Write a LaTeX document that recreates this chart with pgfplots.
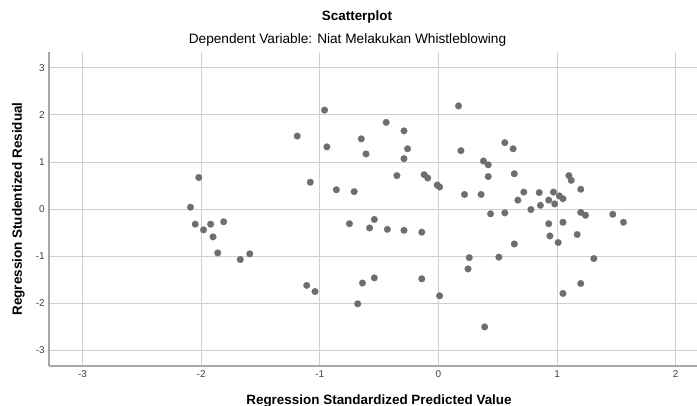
\documentclass[border=0pt]{standalone}
\usepackage{fontspec}
\setmainfont{Liberation Sans}
\usepackage{pgfplots}
\pgfplotsset{compat=1.18}
\definecolor{dotgray}{HTML}{6E6E6E}
\definecolor{gridgray}{HTML}{D0D0D0}
\definecolor{axgray}{HTML}{A8A8A8}

\begin{document}
\begin{tikzpicture}
\begin{axis}[
    at={(0,0)}, anchor=south west,
    scale only axis,
    width=647.7bp, height=314.3bp,
    xmin=-3.28, xmax=2.18,
    ymin=-3.33, ymax=3.34,
    xtick={-3,-2,-1,0,1,2},
    ytick={-3,-2,-1,0,1,2,3},
    xticklabels={-3,-2,-1,0,1,2},
    yticklabels={-3,-2,-1,0,1,2,3},
    axis x line*=bottom,
    axis y line*=left,
    axis line style={axgray, line width=1.6bp, -},
    major tick length=0pt,
    grid=major,
    major grid style={gridgray, line width=0.9bp},
    tick label style={font=\fontsize{10}{12}\selectfont, text=black!75},
    xticklabel style={yshift=-1bp},
    yticklabel style={xshift=-1bp},
]
\addplot[only marks, color=dotgray, mark=*, mark size=3.4bp,
    mark options={solid, fill=dotgray, draw=dotgray, line width=0.1bp}]
coordinates {
    (-2.09,0.04) (-2.02,0.67) (-2.05,-0.32) (-1.98,-0.44) (-1.92,-0.32)
    (-1.90,-0.59) (-1.81,-0.27) (-1.86,-0.93) (-1.67,-1.07) (-1.59,-0.95)
    (-1.11,-1.62) (-1.04,-1.75) (-0.75,-0.31) (-0.58,-0.40) (-0.54,-0.22)
    (-0.43,-0.43) (-0.29,-0.45) (-0.14,-0.49) (-0.64,-1.57) (-0.54,-1.46)
    (-0.68,-2.01) (-0.14,-1.48) (0.01,-1.84) (0.26,-1.03) (0.25,-1.27)
    (-0.96,2.10) (-1.19,1.55) (-0.94,1.32) (-1.08,0.57) (-0.86,0.41)
    (-0.71,0.37) (-0.44,1.84) (-0.29,1.66) (-0.65,1.49) (-0.26,1.28)
    (-0.61,1.17) (-0.29,1.07) (-0.35,0.71) (-0.12,0.73) (-0.09,0.66)
    (-0.01,0.51) (0.01,0.47) (0.17,2.19) (0.19,1.24) (0.22,0.31)
    (0.36,0.31) (0.38,1.02) (0.42,0.94) (0.42,0.69) (0.56,1.41)
    (0.63,1.28) (0.64,0.75) (0.44,-0.10) (0.56,-0.08) (0.67,0.19)
    (0.72,0.36) (0.78,-0.01) (0.85,0.35) (0.86,0.08) (0.93,0.19)
    (0.97,0.36) (0.98,0.11) (1.02,0.28) (1.05,0.22) (1.10,0.71)
    (1.12,0.61) (1.20,0.42) (1.20,-0.07) (1.24,-0.13) (1.47,-0.11)
    (1.56,-0.28) (0.93,-0.31) (1.05,-0.28) (0.94,-0.57) (1.17,-0.54)
    (1.01,-0.71) (0.64,-0.74) (0.51,-1.02) (1.31,-1.05) (1.20,-1.58)
    (1.05,-1.79) (0.39,-2.50)
};
\end{axis}
% titles and axis labels, placed in page pixels (1px = 1bp)
\node[font=\bfseries\fontsize{13.5}{16}\selectfont, anchor=base]
    at (307.7bp,345bp) {Scatterplot};
\node[font=\fontsize{13.7}{16}\selectfont, anchor=base]
    at (298.2bp,322bp) {Dependent Variable: Niat Melakukan Whistleblowing};
\node[font=\bfseries\fontsize{13.5}{16}\selectfont, anchor=base]
    at (329.7bp,-38.5bp) {Regression Standardized Predicted Value};
\node[font=\bfseries\fontsize{13.5}{16}\selectfont, rotate=90, anchor=base]
    at (-27.5bp,157bp) {Regression Studentized Residual};
\pgfresetboundingbox
\path (-49.3bp,-40bp) rectangle (647.7bp,366bp);
\end{tikzpicture}
\end{document}
